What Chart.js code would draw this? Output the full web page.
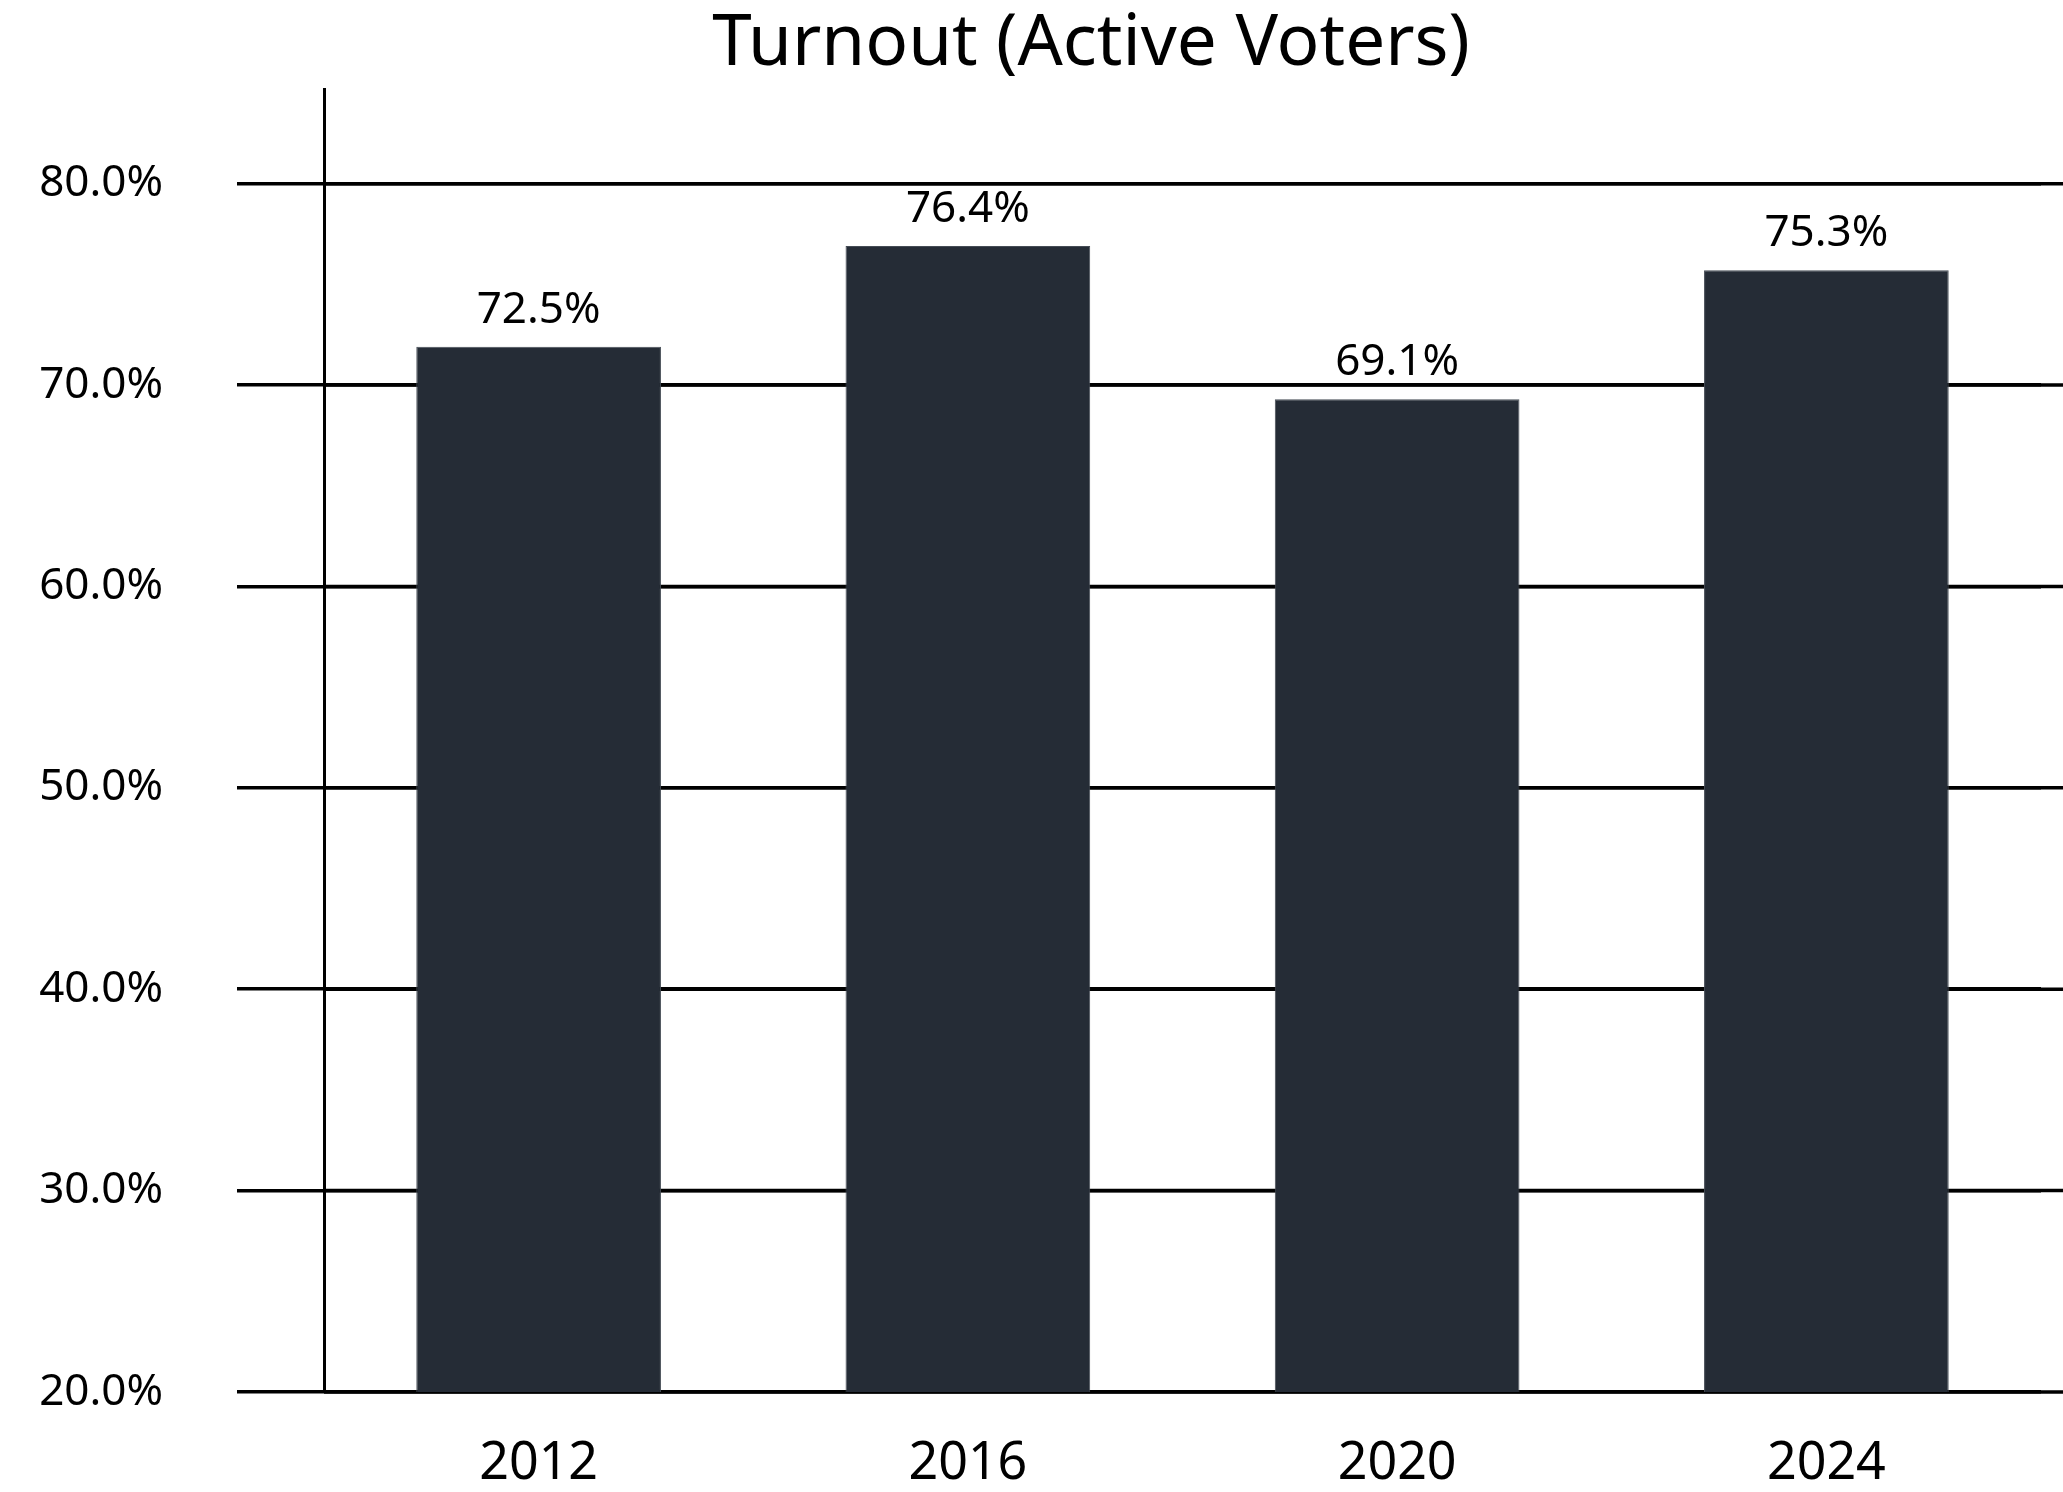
<!DOCTYPE html>
<html>
<head>
<meta charset="utf-8">
<title>Turnout (Active Voters)</title>
<script src="https://cdn.jsdelivr.net/npm/chart.js@4.4.0/dist/chart.umd.min.js"></script>
<style>
  html, body { margin: 0; padding: 0; background: #ffffff; }
  #wrap { width: 2063px; height: 1492px; }
</style>
</head>
<body>
<div id="wrap"><canvas id="turnout-chart" width="2063" height="1492"></canvas></div>
<script>
// Chart data
const years = ['2012', '2016', '2020', '2024'];
// bar heights as drawn in the picture
const turnoutBars = [71.9, 76.9, 69.3, 75.7];
// value labels printed above the bars
const turnoutLabels = ['72.5%', '76.4%', '69.1%', '75.3%'];
const yTickValues = [20, 30, 40, 50, 60, 70, 80];
const chartTitle = 'Turnout (Active Voters)';

const FONT = '"Noto Sans", "Open Sans", sans-serif';

// Draw the title text above the plot
const titlePlugin = {
    id: 'titleText',
    afterDraw(chart) {
        const ctx = chart.ctx;
        ctx.save();
        ctx.font = '71px ' + FONT;
        ctx.fillStyle = '#000';
        ctx.textAlign = 'center';
        ctx.textBaseline = 'alphabetic';
        ctx.fillText(chartTitle, 1091, 65);
        ctx.restore();
    }
};

// Horizontal grid lines run from the y axis to the right edge of the canvas
const gridExtendPlugin = {
    id: 'gridExtend',
    beforeDatasetsDraw(chart) {
        const ctx = chart.ctx;
        const y = chart.scales.y;
        ctx.save();
        ctx.strokeStyle = '#000';
        ctx.lineWidth = 3.5;
        y.ticks.forEach(t => {
            const py = y.getPixelForValue(t.value);
            ctx.beginPath();
            ctx.moveTo(chart.chartArea.left, py);
            ctx.lineTo(chart.width, py);
            ctx.stroke();
        });
        ctx.restore();
    }
};

// Value labels above each bar
const barLabelPlugin = {
    id: 'barLabels',
    afterDatasetsDraw(chart) {
        const ctx = chart.ctx;
        const meta = chart.getDatasetMeta(0);
        ctx.save();
        ctx.font = '44px ' + FONT;
        ctx.fillStyle = '#000';
        ctx.textAlign = 'center';
        ctx.textBaseline = 'alphabetic';
        meta.data.forEach((bar, i) => {
            ctx.fillText(turnoutLabels[i], bar.x, bar.y - 24);
        });
        ctx.restore();
    }
};

const ctx = document.getElementById('turnout-chart').getContext('2d');
const turnoutChart = new Chart(ctx, {
    type: 'bar',
    data: {
        labels: years,
        datasets: [{
            label: 'Turnout',
            data: turnoutBars,
            backgroundColor: '#252c36',
            borderColor: '#454c55',
            borderWidth: 1,
            barPercentage: 0.57,
            categoryPercentage: 1.0
        }]
    },
    options: {
        responsive: false,
        animation: false,
        devicePixelRatio: 1,
        layout: {
            padding: { left: 39, right: 22, top: 89, bottom: 9 }
        },
        plugins: {
            legend: { display: false },
            tooltip: { enabled: false },
            title: { display: false }
        },
        scales: {
            x: {
                grid: { display: false, drawTicks: false },
                border: { display: false },
                afterFit(scale) { scale.height = 91; },
                ticks: {
                    color: '#000',
                    padding: 46,
                    font: { family: FONT, size: 52, lineHeight: 1 }
                }
            },
            y: {
                min: 20,
                max: 84.7,
                afterBuildTicks(scale) {
                    scale.ticks = yTickValues.map(v => ({ value: v }));
                },
                afterFit(scale) {
                    scale.width = 285;
                    scale.paddingTop = 0;
                    scale.paddingBottom = 0;
                },
                grid: {
                    color: '#000',
                    lineWidth: 3.5,
                    drawTicks: true,
                    tickLength: 87
                },
                border: { display: true, color: '#000', width: 3 },
                ticks: {
                    color: '#000',
                    padding: 74,
                    font: { family: FONT, size: 44 },
                    callback: v => v.toFixed(1) + '%'
                }
            }
        }
    },
    plugins: [gridExtendPlugin, barLabelPlugin, titlePlugin]
});
</script>
</body>
</html>
